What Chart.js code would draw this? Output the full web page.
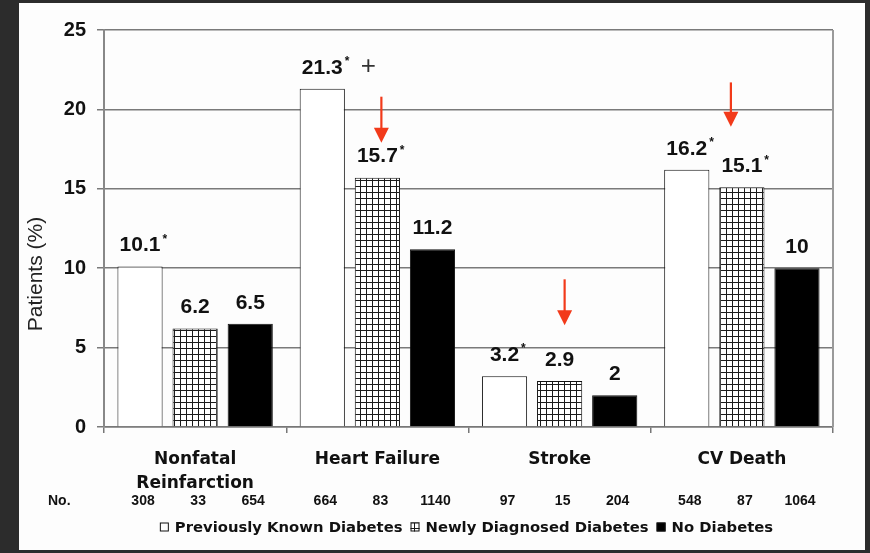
<!DOCTYPE html>
<html>
<head>
<meta charset="utf-8">
<script src="https://cdn.jsdelivr.net/npm/chart.js@4"></script>
<style>
  html, body { margin: 0; padding: 0; background: #2c2c2c; }
  canvas { display: block; }
</style>
</head>
<body>
<canvas id="chart" width="870" height="553"></canvas>
<script>
const categories = [['Nonfatal', 'Reinfarction'], 'Heart Failure', 'Stroke', 'CV Death'];
const seriesNames = ['Previously Known Diabetes', 'Newly Diagnosed Diabetes', 'No Diabetes'];
const previouslyKnown = [10.1, 21.3, 3.2, 16.2];
const newlyDiagnosed = [6.2, 15.7, 2.9, 15.1];
const noDiabetes = [6.5, 11.2, 2, 10];

// significance marks printed after the value labels
const marksPrev = ['*', '*+', '*', '*'];
const marksNew = ['', '*', '', '*'];
const marksNone = ['', '', '', ''];

// number of patients under each bar
const countsPrev = [308, 664, 97, 548];
const countsNew = [33, 83, 15, 87];
const countsNone = [654, 1140, 204, 1064];

const yTicks = [0, 5, 10, 15, 20, 25];
const yTitle = 'Patients (%)';

// red arrows above the newly diagnosed bars (category, start and tip in %)
const arrowCats = [1, 2, 3];
const arrowFrom = [20.8, 9.3, 21.7];
const arrowTo = [17.9, 6.4, 18.9];
const arrowShift = [4, 5, -11];

const SANS = "'Liberation Sans', Arial, sans-serif";
const WIDE = "'DejaVu Sans', Verdana, sans-serif";

// small white square with a black grid, for the newly diagnosed bars
function makeGridPattern() {
    const c = document.createElement('canvas');
    c.width = 6;
    c.height = 6;
    const g = c.getContext('2d');
    g.fillStyle = '#fff';
    g.fillRect(0, 0, 6, 6);
    g.fillStyle = '#1a1a1a';
    g.fillRect(0, 0, 6, 1);
    g.fillRect(0, 0, 1, 6);
    return g.createPattern(c, 'repeat');
}
const gridPattern = makeGridPattern();

const fills = ['#ffffff', gridPattern, '#000000'];
const marks = [marksPrev, marksNew, marksNone];
const counts = [countsPrev, countsNew, countsNone];

const decorations = {
    id: 'decorations',
    beforeDraw(chart) {
        const ctx = chart.ctx;
        ctx.save();
        ctx.fillStyle = '#2c2c2c';
        ctx.fillRect(0, 0, chart.width, chart.height);
        ctx.fillStyle = '#fdfdfd';
        ctx.fillRect(19, 3, 846, 547);
        ctx.restore();
    },
    beforeDatasetsDraw(chart) {
        // right frame of the plot
        const { ctx, chartArea } = chart;
        ctx.save();
        ctx.strokeStyle = '#9a9a9a';
        ctx.lineWidth = 2;
        ctx.beginPath();
        ctx.moveTo(chartArea.right, chartArea.top);
        ctx.lineTo(chartArea.right, chartArea.bottom);
        ctx.stroke();
        ctx.restore();
    },
    afterDatasetsDraw(chart) {
        const { ctx, chartArea, scales } = chart;
        ctx.save();
        ctx.fillStyle = '#111';

        // value labels with their marks
        chart.data.datasets.forEach((ds, i) => {
            const meta = chart.getDatasetMeta(i);
            meta.data.forEach((bar, j) => {
                const txt = String(ds.data[j]);
                const y = bar.y - 21;
                ctx.font = 'bold 21px ' + SANS;
                ctx.textAlign = 'center';
                ctx.textBaseline = 'middle';
                ctx.fillText(txt, bar.x, y);
                let x = bar.x + ctx.measureText(txt).width / 2 + 2;
                ctx.textAlign = 'left';
                for (const ch of marks[i][j]) {
                    if (ch === '*') {
                        ctx.font = 'bold 12px ' + SANS;
                        ctx.fillText('*', x, y - 6);
                        x += 16;
                    } else if (ch === '+') {
                        ctx.font = '26px ' + SANS;
                        ctx.fillStyle = '#333';
                        ctx.fillText('+', x, y - 1);
                        ctx.fillStyle = '#111';
                    }
                }
                // patient counts row
                ctx.font = 'bold 14px ' + SANS;
                ctx.textAlign = 'center';
                ctx.fillText(String(counts[i][j]), bar.x + 3, 501);
            });
        });
        ctx.font = 'bold 14px ' + SANS;
        ctx.textAlign = 'left';
        ctx.fillText('No.', 48, 501);

        // legend
        ctx.font = 'bold 14.8px ' + WIDE;
        const box = 9;
        const widths = seriesNames.map(n => ctx.measureText(n).width);
        const total = widths.reduce((a, w) => a + box + 6 + w, 0) + 8 * (seriesNames.length - 1);
        let lx = (chartArea.left + chartArea.right) / 2 - 2 - total / 2;
        const ly = 527;
        seriesNames.forEach((name, i) => {
            ctx.fillStyle = fills[i];
            ctx.fillRect(lx, ly - box / 2, box, box);
            ctx.strokeStyle = '#111';
            ctx.lineWidth = 1;
            ctx.strokeRect(lx + 0.5, ly - box / 2 + 0.5, box - 1, box - 1);
            ctx.fillStyle = '#111';
            ctx.textBaseline = 'middle';
            ctx.fillText(name, lx + box + 6, ly + 1);
            lx += box + 6 + widths[i] + 8;
        });

        // red arrows
        const newMeta = chart.getDatasetMeta(1);
        ctx.strokeStyle = '#f23a1a';
        ctx.fillStyle = '#f23a1a';
        arrowCats.forEach((c, k) => {
            const x = newMeta.data[c].x + arrowShift[k];
            const y0 = scales.y.getPixelForValue(arrowFrom[k]);
            const y1 = scales.y.getPixelForValue(arrowTo[k]);
            ctx.lineWidth = 2.2;
            ctx.beginPath();
            ctx.moveTo(x, y0);
            ctx.lineTo(x, y1 - 12);
            ctx.stroke();
            ctx.beginPath();
            ctx.moveTo(x - 7.5, y1 - 15);
            ctx.lineTo(x + 7.5, y1 - 15);
            ctx.lineTo(x, y1);
            ctx.closePath();
            ctx.fill();
        });

        // y axis title
        ctx.fillStyle = '#222';
        ctx.font = '21px ' + SANS;
        ctx.textAlign = 'center';
        ctx.textBaseline = 'middle';
        ctx.translate(36, 274);
        ctx.rotate(-Math.PI / 2);
        ctx.fillText(yTitle, 0, 0);
        ctx.restore();
    }
};

const chart = new Chart(document.getElementById('chart'), {
    type: 'bar',
    data: {
        labels: categories,
        datasets: seriesNames.map((name, i) => ({
            label: name,
            data: [previouslyKnown, newlyDiagnosed, noDiabetes][i],
            backgroundColor: fills[i],
            borderColor: '#111',
            borderWidth: 1,
            categoryPercentage: 0.907,
            barPercentage: 0.82
        }))
    },
    options: {
        responsive: false,
        animation: false,
        layout: { padding: { left: 20, right: 37, top: 30, bottom: 0 } },
        plugins: {
            legend: { display: false },
            tooltip: { enabled: false }
        },
        scales: {
            x: {
                grid: {
                    offset: true,
                    drawOnChartArea: false,
                    tickLength: 6,
                    color: '#777',
                    lineWidth: 1.5
                },
                border: { color: '#777', width: 1.5 },
                ticks: {
                    color: '#111',
                    font: { family: WIDE, size: 17, weight: 'bold', lineHeight: 1.4 },
                    padding: 15,
                    maxRotation: 0,
                    autoSkip: false
                },
                afterFit(scale) { scale.height = 126; }
            },
            y: {
                min: 0,
                max: 25,
                afterBuildTicks(scale) { scale.ticks = yTicks.map(v => ({ value: v })); },
                grid: { color: '#7a7a7a', lineWidth: 1.5, tickLength: 7 },
                border: { color: '#888', width: 2 },
                ticks: {
                    color: '#111',
                    font: { family: SANS, size: 20, weight: 'bold' },
                    padding: 11
                },
                afterFit(scale) { scale.width = 84; }
            }
        }
    },
    plugins: [decorations]
});
</script>
</body>
</html>
